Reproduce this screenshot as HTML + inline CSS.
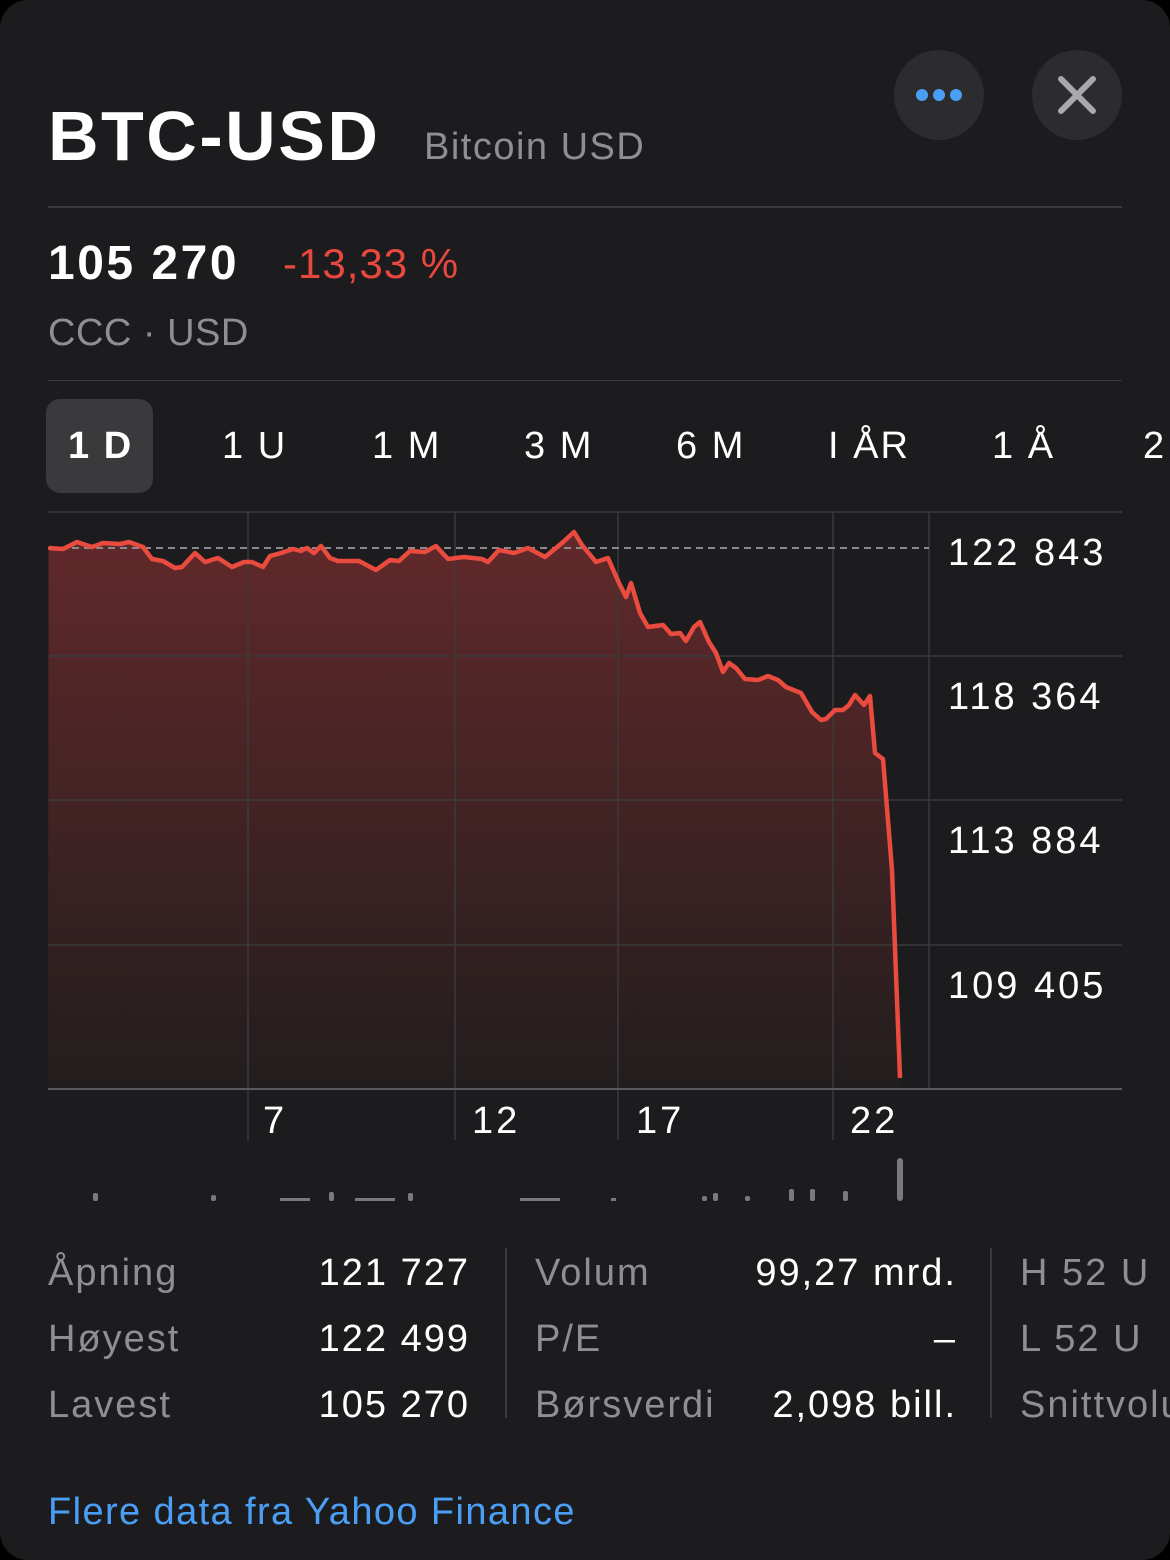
<!DOCTYPE html>
<html><head><meta charset="utf-8"><style>
body{margin:0;width:1170px;height:1540px;background:#000;overflow:hidden;font-family:"Liberation Sans",sans-serif;}
.card{position:absolute;left:0;top:0;width:1170px;height:1560px;background:#1c1c1e;border-radius:28px;}
.t{position:absolute;white-space:nowrap;}
</style></head><body>
<div class="card"></div>
<div class="t" style="left:48px;top:96px;font-size:70px;font-weight:bold;color:#fff;letter-spacing:2.5px;">BTC-USD</div>
<div class="t" style="left:424px;top:126px;font-size:38px;color:#8e8e93;letter-spacing:1.5px;">Bitcoin USD</div>
<div style="position:absolute;left:894px;top:50px;width:90px;height:90px;border-radius:45px;background:#2c2c2e;"></div>
<div style="position:absolute;left:916px;top:89px;width:12px;height:12px;border-radius:6px;background:#4a9ff5;box-shadow:17px 0 0 #4a9ff5,34px 0 0 #4a9ff5;"></div>
<div style="position:absolute;left:1032px;top:50px;width:90px;height:90px;border-radius:45px;background:#2c2c2e;"></div>
<svg style="position:absolute;left:1032px;top:50px" width="90" height="90"><path d="M29 29L61 61M61 29L29 61" stroke="#a8a8ad" stroke-width="6" stroke-linecap="round"/></svg>
<div style="position:absolute;left:48px;top:206px;width:1074px;height:2px;background:#3a3a3c;"></div>
<div class="t" style="left:48px;top:236px;font-size:48px;font-weight:bold;color:#fff;letter-spacing:2.5px;">105 270</div>
<div class="t" style="left:283px;top:240px;font-size:42px;color:#e8483e;letter-spacing:1px;">-13,33 %</div>
<div class="t" style="left:48px;top:312px;font-size:38px;color:#8e8e93;letter-spacing:0.5px;">CCC · USD</div>
<div style="position:absolute;left:48px;top:380px;width:1074px;height:1px;background:#3a3a3c;"></div>
<div style="position:absolute;left:46px;top:399px;width:107px;height:94px;border-radius:14px;background:#3a3a3c;"></div>
<div class="t" style="left:68px;top:425px;font-size:38px;font-weight:bold;color:#fff;letter-spacing:2px;">1 D</div>
<div class="t" style="left:222px;top:425px;font-size:38px;color:#fff;letter-spacing:2px;">1 U</div>
<div class="t" style="left:372px;top:425px;font-size:38px;color:#fff;letter-spacing:2px;">1 M</div>
<div class="t" style="left:524px;top:425px;font-size:38px;color:#fff;letter-spacing:2px;">3 M</div>
<div class="t" style="left:676px;top:425px;font-size:38px;color:#fff;letter-spacing:2px;">6 M</div>
<div class="t" style="left:828px;top:425px;font-size:38px;color:#fff;letter-spacing:2px;">I ÅR</div>
<div class="t" style="left:992px;top:425px;font-size:38px;color:#fff;letter-spacing:2px;">1 Å</div>
<div class="t" style="left:1143px;top:425px;font-size:38px;color:#fff;">2</div>
<svg style="position:absolute;left:0;top:0" width="1170" height="1540">
<defs><linearGradient id="g" x1="0" y1="0" x2="0" y2="1"><stop offset="0" stop-color="#62292a"/><stop offset="1" stop-color="#221d1e"/></linearGradient></defs>
<line x1="48" y1="512" x2="1122" y2="512" stroke="#333335" stroke-width="2"/>
<path d="M48.6 548L63 549L77 542L92 547L103 543L120 544L129 542L143 547L152 559L163 561L175 568L182 567L195 553L205 562L218 558L232 567L244 562L252 562L263 567L270 556L281 553L293 549L301 551L307 548L314 553L321 546L330 558L338 561L359 561L376 570L390 560L399 561L410 551L425 552L436 546L448 559L464 557L482 559L488 562L499 550L514 553L528 548L545 557L562 543L574 532L582 545L596 562L608 558L619 583L626 597L631 583L640 613L648 627L663 625L671 634L680 633L686 641L694 627L700 622L709 642L716 653L723 672L729 663L736 668L745 679L758 680L768 676L778 680L786 687L801 693L812 712L821 720L826 719L835 710L843 710L849 705L855 695L864 705L870 696L875 753L883 759L892 870L900 1078L900 1089L48 1089Z" fill="url(#g)"/>
<g stroke="#3a3a3c" stroke-width="1.5"><line x1="48" y1="656" x2="1122" y2="656"/><line x1="48" y1="800" x2="1122" y2="800"/><line x1="48" y1="945" x2="1122" y2="945"/>
<line x1="248" y1="512" x2="248" y2="1140"/><line x1="455" y1="512" x2="455" y2="1140"/><line x1="618" y1="512" x2="618" y2="1140"/><line x1="833" y1="512" x2="833" y2="1140"/><line x1="929" y1="512" x2="929" y2="1089"/></g>
<line x1="48" y1="1089" x2="1122" y2="1089" stroke="#5a5a5e" stroke-width="2"/>
<line x1="48" y1="548" x2="929" y2="548" stroke="#8a8a8e" stroke-width="2" stroke-dasharray="7,5"/>
<path d="M48.6 548L63 549L77 542L92 547L103 543L120 544L129 542L143 547L152 559L163 561L175 568L182 567L195 553L205 562L218 558L232 567L244 562L252 562L263 567L270 556L281 553L293 549L301 551L307 548L314 553L321 546L330 558L338 561L359 561L376 570L390 560L399 561L410 551L425 552L436 546L448 559L464 557L482 559L488 562L499 550L514 553L528 548L545 557L562 543L574 532L582 545L596 562L608 558L619 583L626 597L631 583L640 613L648 627L663 625L671 634L680 633L686 641L694 627L700 622L709 642L716 653L723 672L729 663L736 668L745 679L758 680L768 676L778 680L786 687L801 693L812 712L821 720L826 719L835 710L843 710L849 705L855 695L864 705L870 696L875 753L883 759L892 870L900 1078" fill="none" stroke="#ea4b3f" stroke-width="4.5" stroke-linejoin="round"/>
<g fill="#7a7a7e">
<rect x="93" y="1193" width="5" height="8" rx="2"/><rect x="211" y="1195" width="5" height="6" rx="2"/><rect x="329" y="1192" width="5" height="9" rx="2"/><rect x="408" y="1193" width="5" height="8" rx="2"/><rect x="611" y="1198" width="5" height="3"/><rect x="713" y="1193" width="5" height="8" rx="2"/><rect x="789" y="1189" width="5" height="12" rx="2"/><rect x="810" y="1189" width="5" height="12" rx="2"/><rect x="843" y="1191" width="5" height="10" rx="2"/><rect x="702" y="1196" width="5" height="5" rx="2"/><rect x="745" y="1196" width="5" height="5" rx="2"/>
<rect x="280" y="1198" width="30" height="3"/><rect x="355" y="1198" width="40" height="3"/><rect x="520" y="1198" width="40" height="3"/>
<rect x="897" y="1158" width="6" height="43" rx="3"/></g>
<g font-family="Liberation Sans,sans-serif" font-size="38" fill="#fff" letter-spacing="3">
<text x="948" y="565">122 843</text><text x="948" y="709">118 364</text><text x="948" y="853">113 884</text><text x="948" y="998">109 405</text>
<text x="263" y="1133">7</text><text x="472" y="1133">12</text><text x="636" y="1133">17</text><text x="850" y="1133">22</text></g>
<g font-family="Liberation Sans,sans-serif" font-size="38" letter-spacing="2">
<text x="48" y="1285" fill="#8e8e93">Åpning</text><text x="48" y="1351" fill="#8e8e93">Høyest</text><text x="48" y="1417" fill="#8e8e93">Lavest</text>
<text x="470" y="1285" fill="#fff" text-anchor="end">121 727</text><text x="470" y="1351" fill="#fff" text-anchor="end">122 499</text><text x="470" y="1417" fill="#fff" text-anchor="end">105 270</text>
<text x="535" y="1285" fill="#8e8e93">Volum</text><text x="535" y="1351" fill="#8e8e93">P/E</text><text x="535" y="1417" fill="#8e8e93">Børsverdi</text>
<text x="957" y="1285" fill="#fff" text-anchor="end">99,27 mrd.</text><text x="957" y="1351" fill="#fff" text-anchor="end">–</text><text x="957" y="1417" fill="#fff" text-anchor="end">2,098 bill.</text>
<text x="1020" y="1285" fill="#8e8e93">H 52 U</text><text x="1020" y="1351" fill="#8e8e93">L 52 U</text><text x="1020" y="1417" fill="#8e8e93">Snittvolum</text>
<text x="48" y="1524" fill="#4a9ff5" letter-spacing="1.4">Flere data fra Yahoo Finance</text></g>
<g stroke="#3a3a3c" stroke-width="2"><line x1="506" y1="1248" x2="506" y2="1418"/><line x1="991" y1="1248" x2="991" y2="1418"/></g>
</svg>
</body></html>
